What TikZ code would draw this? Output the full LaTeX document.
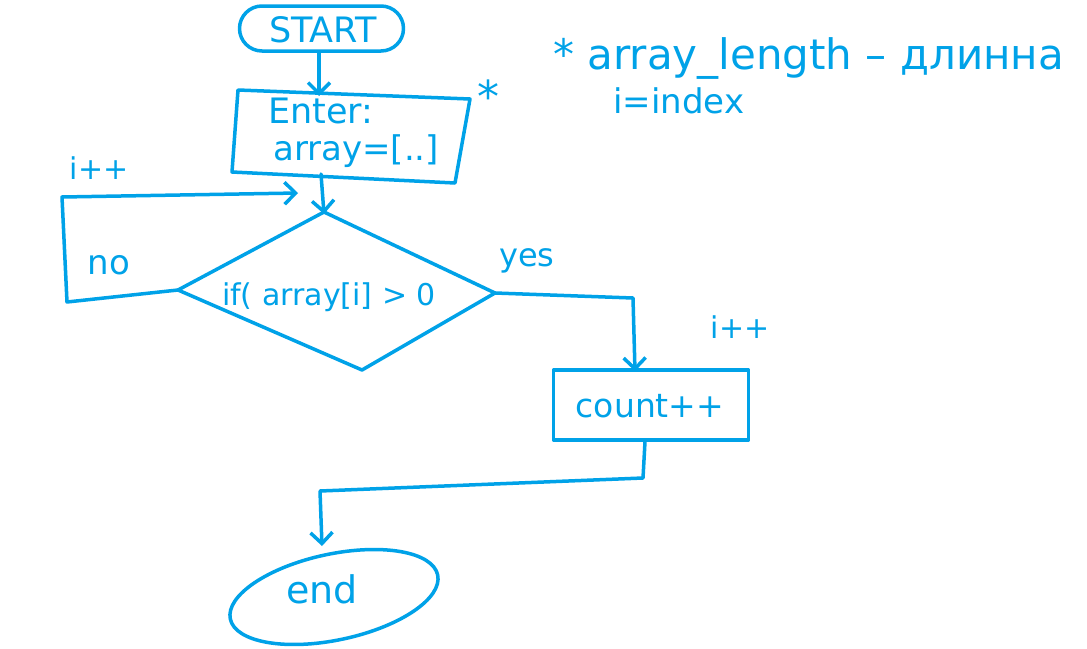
\documentclass[tikz,border=0pt]{standalone}
\usepackage{fontspec}
\setmainfont{DejaVu Sans}
\usetikzlibrary{arrows.meta,shapes.misc,shapes.geometric}
\definecolor{paintblue}{RGB}{0,162,232}
\begin{document}
\begin{tikzpicture}[x=1pt,y=-1pt,
  line/.style={draw=paintblue,line width=3.5pt,line join=round,line cap=round},
  arr/.style={line,-{Straight Barb[length=11pt,width=22pt]}},
  lbl/.style={text=paintblue,inner sep=0pt,font=\fontsize{#1pt}{#1pt}\selectfont},
  term/.style={line,rounded rectangle,minimum width=164pt,minimum height=45pt,inner sep=0pt},
  proc/.style={line,rectangle,minimum width=195pt,minimum height=70pt,inner sep=0pt}
]
\fill[white] (0,0) rectangle (1087,648);
\useasboundingbox (0,0) rectangle (1087,648);

% start
\node[term] (start) at (321.5,28.5) {};
\node[lbl=35] (starttxt) at (323,30) {START};

% enter box
\coordinate (e1) at (238,90);
\coordinate (e2) at (470,99);
\coordinate (e3) at (455,183);
\coordinate (e4) at (232,172);
\coordinate (eT) at (319,90);
\coordinate (eB) at (321,174);
\draw[line] (e1) -- (e2) -- (e3) -- (e4) -- cycle;
\node[lbl=35,anchor=west] (enter1) at (268,111) {Enter:};
\node[lbl=34,anchor=west] (enter2) at (273,151) {array=[..]};
\node[lbl=44] (star) at (488,96) {*};

% start -> enter
\coordinate (startOut) at (319,52);
\draw[arr] (startOut) -- ([yshift=-6pt]eT);

% decision diamond
\coordinate (dT) at (324,212);
\coordinate (dR) at (495,293);
\coordinate (dB) at (362,370);
\coordinate (dL) at (178,290);
\draw[line] (dT) -- (dR) -- (dB) -- (dL) -- cycle;
\node[lbl=30] (cond) at (329,297) {if( array[i] > 0};

% enter -> diamond
\draw[arr] (eB) -- ([yshift=-2pt]dT);

% no loop
\coordinate (lp1) at (67,302);
\coordinate (lp2) at (62,197);
\coordinate (lpEnd) at (298,193);
\draw[arr] (dL) -- (lp1) -- (lp2) -- (lpEnd);
\node[lbl=30] (inc1) at (99,168) {i++};
\node[lbl=34] (no) at (109,265) {no};

% yes branch
\node[lbl=32] (yes) at (527,261) {yes};
\node[proc] (count) at (651,405) {};
\node[lbl=33] (counttxt) at (650,406) {count++};
\node[lbl=30] (inc2) at (740,327) {i++};
\coordinate (y1) at (633,298);
\draw[arr] (dR) -- (y1) -- ([xshift=-16pt,yshift=-3pt]count.north);

% end
\node[line,ellipse,minimum width=212pt,minimum height=86pt,rotate=12] (end) at (334,597) {};
\node[lbl=38] (endtxt) at (322,589) {end};
\coordinate (c1) at (643,478);
\coordinate (c2) at (320,491);
\coordinate (endIn) at (322,546);
\draw[arr] ([xshift=-6pt]count.south) -- (c1) -- (c2) -- (endIn);

% note
\node[lbl=42,anchor=west] (note1) at (553,58) {* array\_length – длинна};
\node[lbl=34,anchor=west] (note2) at (613,101) {i=index};
\end{tikzpicture}
\end{document}
